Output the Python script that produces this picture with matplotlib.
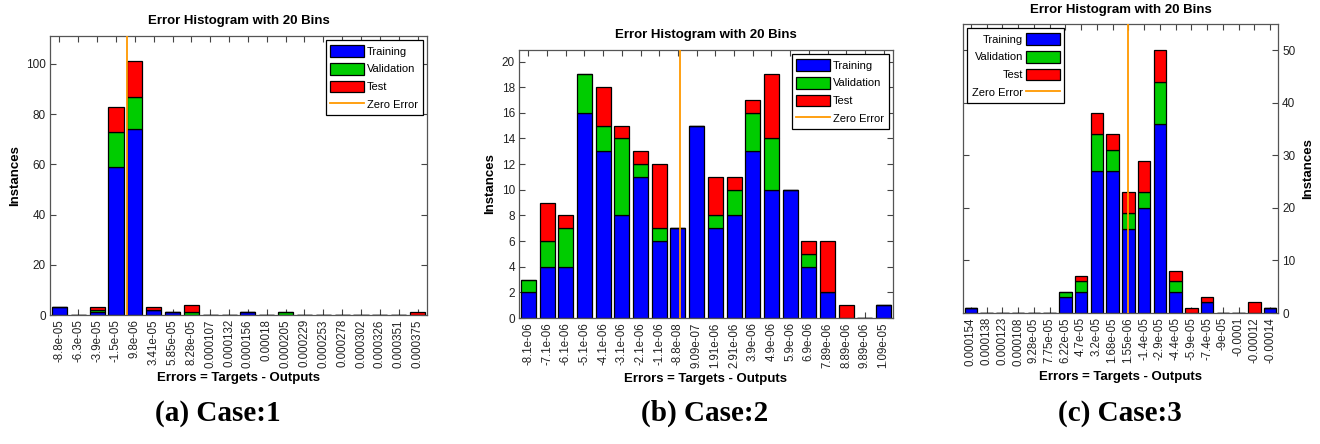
import numpy as np
import matplotlib.pyplot as plt

plt.rcParams['font.family'] = ['Liberation Sans', 'DejaVu Sans']

BLUE = '#0000ff'
GREEN = '#00cc00'
RED = '#ff0000'
ORANGE = '#ff9900'

# Case 1 error histogram (bin centres as printed on the axis)
case1_bins = ['-8.8e-05', '-6.3e-05', '-3.9e-05', '-1.5e-05', '9.8e-06', '3.41e-05',
              '5.85e-05', '8.28e-05', '0.000107', '0.000132', '0.000156', '0.00018',
              '0.000205', '0.000229', '0.000253', '0.000278', '0.000302', '0.000326',
              '0.000351', '0.000375']
case1_train = [3, 0, 1, 59, 74, 2, 1, 0, 0, 0, 1, 0, 0, 0, 0, 0, 0, 0, 0, 0]
case1_val = [0, 0, 1, 14, 13, 0, 0, 1, 0, 0, 0, 0, 1, 0, 0, 0, 0, 0, 0, 0]
case1_test = [0, 0, 1, 10, 14, 1, 0, 3, 0, 0, 0, 0, 0, 0, 0, 0, 0, 0, 0, 1]

# Case 2
case2_bins = ['-8.1e-06', '-7.1e-06', '-6.1e-06', '-5.1e-06', '-4.1e-06', '-3.1e-06',
              '-2.1e-06', '-1.1e-06', '-8.8e-08', '9.09e-07', '1.91e-06', '2.91e-06',
              '3.9e-06', '4.9e-06', '5.9e-06', '6.9e-06', '7.89e-06', '8.89e-06',
              '9.89e-06', '1.09e-05']
case2_train = [2, 4, 4, 16, 13, 8, 11, 6, 7, 15, 7, 8, 13, 10, 10, 4, 2, 0, 0, 1]
case2_val = [1, 2, 3, 3, 2, 6, 1, 1, 0, 0, 1, 2, 3, 4, 0, 1, 0, 0, 0, 0]
case2_test = [0, 3, 1, 0, 3, 1, 1, 5, 0, 0, 3, 1, 1, 5, 0, 1, 4, 1, 0, 0]

# Case 3
case3_bins = ['-0.00014', '-0.00012', '-0.0001', '-9e-05', '-7.4e-05', '-5.9e-05',
              '-4.4e-05', '-2.9e-05', '-1.4e-05', '1.55e-06', '1.68e-05', '3.2e-05',
              '4.7e-05', '6.22e-05', '7.75e-05', '9.28e-05', '0.000108', '0.000123',
              '0.000138', '0.000154']
case3_train = [1, 0, 0, 0, 2, 0, 4, 36, 20, 16, 27, 27, 4, 3, 0, 0, 0, 0, 0, 1]
case3_val = [0, 0, 0, 0, 0, 0, 2, 8, 3, 3, 4, 7, 2, 1, 0, 0, 0, 0, 0, 0]
case3_test = [0, 2, 0, 0, 1, 1, 2, 6, 6, 4, 3, 4, 1, 0, 0, 0, 0, 0, 0, 0]

captions = ['(a) Case:1', '(b) Case:2', '(c) Case:3']


def error_hist(ax, bins, train, val, test, yticks, mirrored=False):
    centers = np.linspace(float(bins[0]), float(bins[-1]), len(bins))
    step = centers[1] - centers[0]
    w = 0.8 * step
    train = np.array(train)
    val = np.array(val)
    test = np.array(test)
    total = train + val + test

    kw = dict(width=w, edgecolor='black', linewidth=0.9, zorder=2)
    b1 = ax.bar(centers, train, color=BLUE, label='Training', **kw)
    b2 = ax.bar(centers, val, bottom=train, color=GREEN, label='Validation', **kw)
    b3 = ax.bar(centers, test, bottom=train + val, color=RED, label='Test', **kw)
    zl = ax.axvline(0, color=ORANGE, linewidth=1.3, zorder=3, label='Zero Error')

    ax.set_xlim(centers[0] - step / 2, centers[-1] + step / 2)
    ax.set_ylim(0, total.max() * 1.1)
    ax.set_xticks(centers)
    ax.set_xticklabels(bins, rotation=90, fontsize=8.3, color='#222222')
    ax.set_yticks(yticks)
    ax.tick_params(axis='y', labelsize=8.5, labelcolor='#222222')
    ax.tick_params(direction='in', length=4, width=0.8, top=True, bottom=True,
                   left=True, right=True, color='#444444', pad=3)
    for s in ax.spines.values():
        s.set_color('#555555')
        s.set_linewidth(0.9)

    ax.set_title('Error Histogram with 20 Bins', fontsize=9.5, fontweight='bold', pad=8.5)
    ax.set_xlabel('Errors = Targets - Outputs', fontsize=9.5, fontweight='bold', va='center')
    ax.set_ylabel('Instances', fontsize=9.5, fontweight='bold', va='center')

    if mirrored:
        ax.invert_xaxis()
        ax.yaxis.tick_right()
        ax.tick_params(left=True, right=True, labelleft=False, labelright=True)
        ax.yaxis.set_label_position('right')
        loc = 'upper left'
    else:
        loc = 'upper right'

    leg = ax.legend([b1, b2, b3, zl], ['Training', 'Validation', 'Test', 'Zero Error'],
                    loc=loc, fontsize=8, fancybox=False, framealpha=1,
                    edgecolor='black', handlelength=3.0, handleheight=1.25,
                    labelspacing=0.55, handletextpad=0.3, borderpad=0.4,
                    borderaxespad=0.4, markerfirst=not mirrored)
    leg.get_frame().set_linewidth(0.9)
    return ax


fig = plt.figure(figsize=(13.2, 4.44), dpi=100)
W, H = 1320, 444


def add_axes(left, top, right, bottom):
    return fig.add_axes([left / W, 1 - bottom / H, (right - left) / W, (bottom - top) / H])


ax1 = add_axes(50, 36, 427, 315)
error_hist(ax1, case1_bins, case1_train, case1_val, case1_test, [0, 20, 40, 60, 80, 100])
ax1.xaxis.set_label_coords(0.5, (315 - 378) / 279)
ax1.yaxis.set_label_coords((15 - 50) / 377, 0.5)

ax2 = add_axes(519, 50, 893, 318)
error_hist(ax2, case2_bins, case2_train, case2_val, case2_test, list(range(0, 21, 2)))
ax2.xaxis.set_label_coords(0.5, (318 - 379) / 268)
ax2.yaxis.set_label_coords((490 - 519) / 374, 0.5)

ax3 = add_axes(963, 24, 1278, 313)
error_hist(ax3, case3_bins, case3_train, case3_val, case3_test, [0, 10, 20, 30, 40, 50],
           mirrored=True)
ax3.xaxis.set_label_coords(0.5, (313 - 377) / 289)
ax3.yaxis.set_label_coords((1302 - 963) / 315, 0.5)
ax3.set_title('Error Histogram with 20 Bins', fontsize=9.5, fontweight='bold', pad=8)

for x, cap in zip([218, 705, 1120], captions):
    fig.text(x / W, 1 - 413 / H, cap, ha='center', va='center',
             fontsize=21, fontweight='bold', family='Liberation Serif')

fig.savefig('out.png', dpi=100, facecolor='white')
